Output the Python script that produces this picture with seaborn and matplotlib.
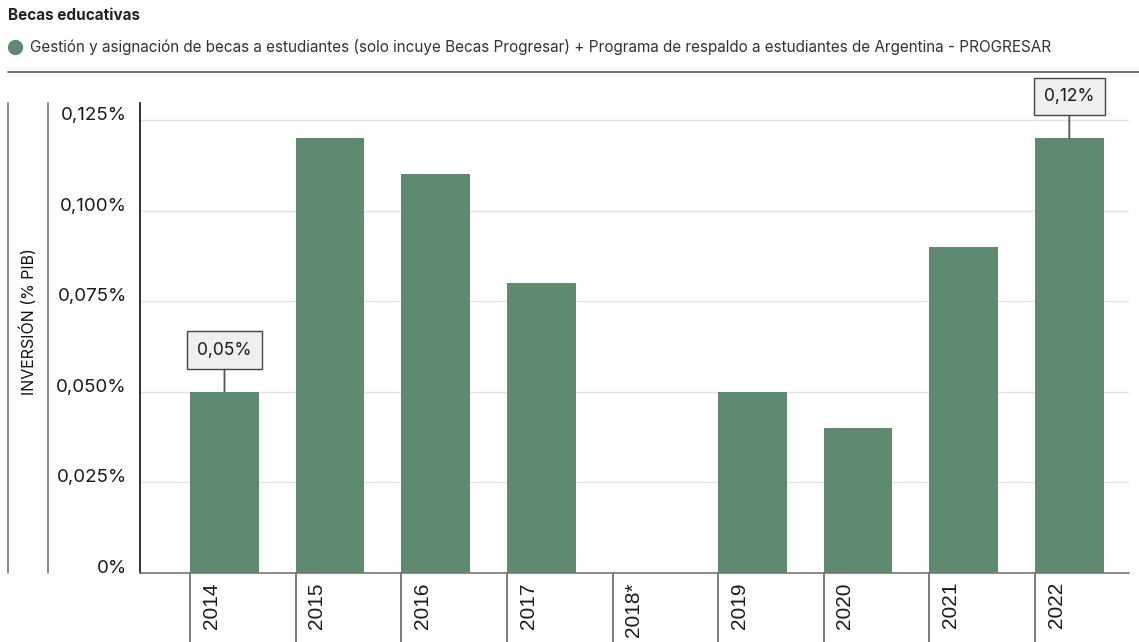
import numpy as np
import pandas as pd
import matplotlib
matplotlib.use("Agg")
import matplotlib.pyplot as plt
import matplotlib.transforms as mtransforms
from matplotlib.lines import Line2D
import seaborn as sns

# data
years = ["2014", "2015", "2016", "2017", "2018*", "2019", "2020", "2021", "2022"]
valores = [0.05, 0.12, 0.11, 0.08, np.nan, 0.05, 0.04, 0.09, 0.12]
etiquetas = {"2014": "0,05%", "2022": "0,12%"}
ytick_vals = [0, 0.025, 0.05, 0.075, 0.1, 0.125]
ytick_labels = ["0%", "0,025%", "0,050%", "0,075%", "0,100%", "0,125%"]

titulo = "Becas educativas"
serie = ("Gestión y asignación de becas a estudiantes (solo incuye Becas Progresar) "
         "+ Programa de respaldo a estudiantes de Argentina - PROGRESAR")
ylabel = "INVERSIÓN (% PIB)"

verde = "#5e8a70"

df = pd.DataFrame({"year": years, "valor": valores})

sns.set_style("white")
plt.rcParams["font.family"] = ["Inter", "DejaVu Sans"]

W, H = 1139, 642
fig = plt.figure(figsize=(W / 100, H / 100), dpi=100)
ax = fig.add_axes([140 / W, 1 - 573 / H, (1129 - 140) / W, (573 - 103) / H])

bw = 0.65
sns.barplot(data=df, x="year", y="valor", order=years, color=verde,
            saturation=1, width=bw, ax=ax, errorbar=None, linewidth=0)

ax.set_xlim(-0.8, 8.565)
ax.set_ylim(0, 0.1297)

# grid
ax.set_yticks(ytick_vals)
ax.set_yticklabels(ytick_labels, fontsize=13.5, color="#1a1a1a")
for lab in ax.get_yticklabels():
    lab.set_verticalalignment("baseline")
ax.yaxis.grid(True, color="#e2e2e2", linewidth=1)
ax.set_axisbelow(True)
ax.tick_params(axis="y", length=0, pad=9.5)

# x labels right of the separators
pos = np.arange(len(years))
ax.set_xticks(pos - bw / 2 + 0.2)
ax.set_xticklabels(years, rotation=90, fontsize=15,
                   family=["Liberation Sans", "DejaVu Sans"], color="#1a1a1a")
for lab in ax.get_xticklabels():
    lab.set_verticalalignment("top")
ax.tick_params(axis="x", length=0, pad=6.5)
ax.set_xlabel("")
ax.set_ylabel("")

for s in ["top", "right"]:
    ax.spines[s].set_visible(False)
ax.spines["left"].set_color("#111111")
ax.spines["left"].set_linewidth(1.2)
ax.spines["bottom"].set_color("#777777")
ax.spines["bottom"].set_linewidth(1.2)

# separators below the axis
trans = mtransforms.blended_transform_factory(ax.transData, ax.transAxes)
for p in pos:
    ax.plot([p - bw / 2, p - bw / 2], [0, -0.16], transform=trans,
            color="#666666", lw=1.2, clip_on=False)

# value boxes
for i, y in enumerate(years):
    if y in etiquetas:
        ax.annotate(etiquetas[y], xy=(i, valores[i]), xytext=(0, 30),
                    textcoords="offset points", ha="center", va="center",
                    fontsize=12.5, color="#1a1a1a",
                    bbox=dict(boxstyle="square,pad=0.6", fc="#efefef",
                              ec="#444444", lw=1),
                    arrowprops=dict(arrowstyle="-", color="#555555", lw=1.3,
                                    shrinkA=0, shrinkB=0))

# left vertical rules and y label
for xx in [8, 48]:
    fig.add_artist(Line2D([xx / W, xx / W], [1 - 573 / H, 1 - 103 / H],
                          transform=fig.transFigure, color="#777777", lw=1.2))
fig.text(28 / W, 1 - 322 / H, ylabel, rotation=90, ha="center", va="center",
         fontsize=11.5, color="#111111")

# header
fig.text(8 / W, 1 - 15 / H, titulo, fontsize=11, fontweight="bold",
         ha="left", va="center", color="#222222")
fig.add_artist(Line2D([15 / W], [1 - 47 / H], marker="o", markersize=10,
                      color=verde, transform=fig.transFigure))
fig.text(30 / W, 1 - 47 / H, serie, fontsize=11, ha="left", va="center",
         color="#333333")
fig.add_artist(Line2D([8 / W, 1], [1 - 72 / H, 1 - 72 / H],
                      transform=fig.transFigure, color="#666666", lw=1.3))

fig.savefig("out.png", dpi=100)
